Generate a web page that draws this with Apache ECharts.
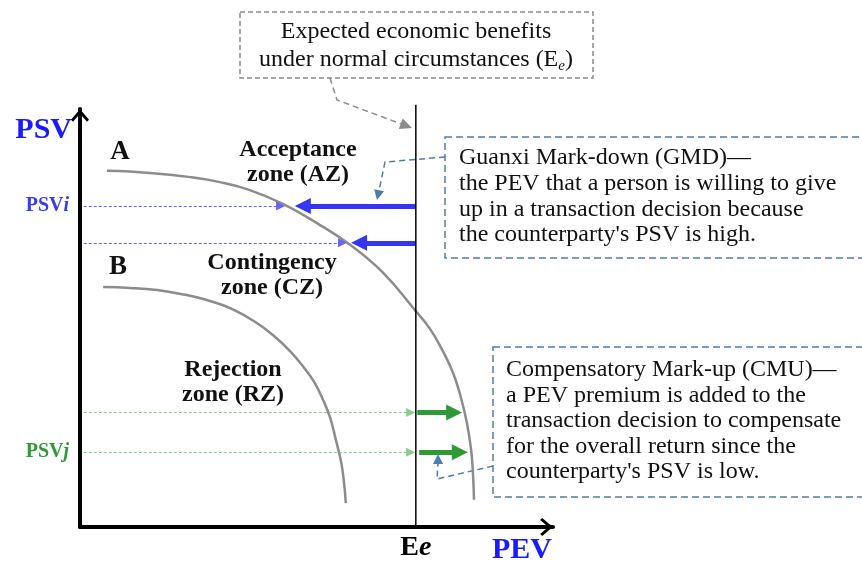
<!DOCTYPE html>
<html>
<head>
<meta charset="utf-8">
<title>PSV / PEV zones</title>
<script src="https://cdn.jsdelivr.net/npm/echarts@6.0.0/dist/echarts.min.js"></script>
<style>
  html, body { margin: 0; padding: 0; background: #fff; }
  #chart { width: 862px; height: 566px; }
</style>
</head>
<body>
<div id="chart"></div>
<script>
// both axes run 0..100 (PEV across, PSV up)
const EE = 71.0        // expected economic benefits under normal circumstances
const EE_TOP = 101.0

// curve A and curve B, [PEV, PSV]
const curveA = [
  [5.7, 85.2], [14.8, 84.7], [23.3, 83.7], [29.6, 82.5], [35.9, 80.6],
  [42.9, 77.3], [50.1, 72.7], [57.1, 67.5], [64.1, 60.8], [70.8, 51.9],
  [74.0, 47.4], [76.7, 42.1], [78.9, 36.8], [80.5, 31.1], [81.8, 24.9],
  [82.7, 18.4], [83.1, 12.4], [83.3, 6.5]
]
const curveB = [
  [4.9, 57.4], [10.6, 57.2], [16.3, 56.7], [21.6, 55.7], [26.8, 54.3],
  [32.1, 52.2], [37.4, 48.8], [41.2, 45.5], [44.4, 42.1], [47.1, 38.5],
  [49.5, 34.7], [51.4, 30.4], [52.9, 26.1], [54.1, 20.8], [55.2, 15.6],
  [55.8, 10.8], [56.2, 5.7]
]

// Guanxi mark-down: high PSV, arrows go left from Ee
const gmdPsv = [76.8, 68.0]
const gmdEnd = [47.1, 59.0]
const gmdGuideEnd = [42.4, 55.5]

// Compensatory mark-up: low PSV, arrows go right from Ee
const cmuPsv = [27.4, 17.9]
const cmuStart = [71.3, 71.7]
const cmuEnd = [79.1, 80.3]
const cmuGuideEnd = [69.9, 69.9]

const GUIDE_START = 0.8

// y tick labels
const yTickValues = [gmdPsv[0], cmuPsv[1]]
const yTickNames = ['{bl|PSV}{bli|i}', '{gr|PSV}{gri|j}']

const SERIF = '"Liberation Serif", "Times New Roman", serif'
const BLUE = '#1a1aff'
const ARROW_BLUE = '#3535f5'
const GREEN = '#2f9a35'
const CALLOUT = '#4f7cac'
const GREY = '#8c8c8c'

const chevron = 'path://M0,0 L11,13 L8.5,15.5 L0,5.5 L-8.5,15.5 L-11,13 Z'

function seg(x1, y1, x2, y2) {
  return { coords: [[x1, y1], [x2, y2]] }
}

// one smooth stroke through all points of a curve
function curveSeries(name, points) {
  return {
    name: name,
    type: 'custom',
    data: points,
    encode: { x: 0, y: 1 },
    renderItem: (params, api) => {
      if (params.dataIndex !== 0) return null
      return {
        type: 'polyline',
        shape: { points: points.map((p) => api.coord(p)), smooth: 0.45 },
        style: { fill: 'none', stroke: GREY, lineWidth: 2.5 }
      }
    }
  }
}

const myChart = echarts.init(document.getElementById('chart'))

myChart.setOption({
  animation: false,
  grid: { left: 80, right: 309, top: 109, bottom: 39, outerBoundsMode: 'none' },
  xAxis: {
    type: 'value',
    min: 0,
    max: 100,
    name: 'PEV',
    nameLocation: 'end',
    nameGap: -61,
    nameMoveOverlap: false,
    nameTextStyle: {
      color: BLUE, fontFamily: SERIF, fontSize: 30, fontWeight: 'bold',
      align: 'left', verticalAlign: 'top', padding: [8, 0, 0, 0]
    },
    axisLine: {
      show: true,
      symbol: ['none', chevron],
      symbolSize: [18, 13],
      symbolOffset: [0, -6.5],
      lineStyle: { color: '#000', width: 4 }
    },
    axisTick: { show: false },
    splitLine: { show: false },
    axisLabel: {
      customValues: [EE],
      margin: 7,
      formatter: () => '{e|E}{ei|e}',
      rich: {
        e: { fontFamily: SERIF, fontSize: 28, fontWeight: 'bold', color: '#000' },
        ei: { fontFamily: SERIF, fontSize: 28, fontWeight: 'bold', fontStyle: 'italic', color: '#000' }
      }
    }
  },
  yAxis: {
    type: 'value',
    min: 0,
    max: 100,
    name: 'PSV',
    nameLocation: 'end',
    nameGap: -21,
    nameMoveOverlap: false,
    nameTextStyle: {
      color: BLUE, fontFamily: SERIF, fontSize: 30, fontWeight: 'bold',
      align: 'right', verticalAlign: 'middle', padding: [0, 8, 0, 0]
    },
    axisLine: {
      show: true,
      symbol: ['none', chevron],
      symbolSize: [18, 13],
      symbolOffset: [0, -6.5],
      lineStyle: { color: '#000', width: 4 }
    },
    axisTick: { show: false },
    splitLine: { show: false },
    axisLabel: {
      customValues: yTickValues,
      margin: 11,
      formatter: (v) => yTickNames[yTickValues.indexOf(v)] || '',
      rich: {
        bl: { fontFamily: SERIF, fontSize: 20, fontWeight: 'bold', color: '#3a3af0' },
        bli: { fontFamily: SERIF, fontSize: 20, fontWeight: 'bold', fontStyle: 'italic', color: '#3a3af0' },
        gr: { fontFamily: SERIF, fontSize: 20, fontWeight: 'bold', color: GREEN },
        gri: { fontFamily: SERIF, fontSize: 20, fontWeight: 'bold', fontStyle: 'italic', color: GREEN }
      }
    }
  },
  series: [
    curveSeries('A', curveA),
    curveSeries('B', curveB),
    {
      name: 'Ee',
      type: 'line',
      symbol: 'none',
      clip: false,
      lineStyle: { color: '#000', width: 1.5 },
      data: [[EE, 0], [EE, EE_TOP]]
    },
    {
      name: 'GMD guide',
      type: 'lines',
      coordinateSystem: 'cartesian2d',
      symbol: ['none', 'triangle'],
      symbolSize: 9,
      lineStyle: { color: '#6464ff', width: 1, type: [3, 2], opacity: 1 },
      data: gmdPsv.map((p, i) => seg(GUIDE_START, p, gmdGuideEnd[i], p))
    },
    {
      name: 'GMD',
      type: 'lines',
      coordinateSystem: 'cartesian2d',
      symbol: ['none', 'triangle'],
      symbolSize: 16,
      lineStyle: { color: ARROW_BLUE, width: 5, opacity: 1 },
      data: gmdPsv.map((p, i) => seg(EE, p, gmdEnd[i], p))
    },
    {
      name: 'CMU guide',
      type: 'lines',
      coordinateSystem: 'cartesian2d',
      symbol: ['none', 'triangle'],
      symbolSize: 9,
      lineStyle: { color: '#86cf86', width: 1, type: [3, 2], opacity: 1 },
      data: cmuPsv.map((p, i) => seg(GUIDE_START, p, cmuGuideEnd[i], p))
    },
    {
      name: 'CMU',
      type: 'lines',
      coordinateSystem: 'cartesian2d',
      symbol: ['none', 'triangle'],
      symbolSize: 16,
      lineStyle: { color: GREEN, width: 5, opacity: 1 },
      data: cmuPsv.map((p, i) => seg(cmuStart[i], p, cmuEnd[i], p))
    }
  ],
  graphic: {
    elements: [
      // top note
      {
        type: 'rect',
        shape: { x: 240, y: 12, width: 353, height: 66 },
        style: { fill: 'none', stroke: GREY, lineWidth: 1.5, lineDash: [5, 3] }
      },
      {
        type: 'text',
        x: 416, y: 18,
        style: {
          text: 'Expected economic benefits\nunder normal circumstances (E{sub|e})',
          fontFamily: SERIF, fontSize: 24, lineHeight: 28, fill: '#111',
          align: 'center', verticalAlign: 'top',
          rich: {
            sub: { fontFamily: SERIF, fontSize: 15, fontStyle: 'italic', fill: '#111', verticalAlign: 'bottom' }
          }
        }
      },
      {
        type: 'polyline',
        shape: { points: [[330, 78], [337, 100], [400.8, 123.8]] },
        style: { fill: 'none', stroke: GREY, lineWidth: 1.5, lineDash: [6, 4] }
      },
      {
        type: 'polygon',
        shape: { points: [[412, 128], [398.8, 129], [402.7, 118.6]] },
        style: { fill: GREY }
      },
      // GMD note
      {
        type: 'rect',
        shape: { x: 445, y: 137, width: 430, height: 121 },
        style: { fill: 'none', stroke: CALLOUT, lineWidth: 1.5, lineDash: [7, 4] }
      },
      {
        type: 'text',
        x: 459, y: 145,
        style: {
          text: 'Guanxi Mark-down (GMD)\u2014\nthe PEV that a person is willing to give\nup in a transaction decision because\nthe counterparty\'s PSV is high.',
          fontFamily: SERIF, fontSize: 24, lineHeight: 25.7, fill: '#111',
          align: 'left', verticalAlign: 'top'
        }
      },
      {
        type: 'polyline',
        shape: { points: [[445, 157], [385, 162], [379.1, 190.2]] },
        style: { fill: 'none', stroke: CALLOUT, lineWidth: 1.5, lineDash: [6, 4] }
      },
      {
        type: 'polygon',
        shape: { points: [[377, 200], [384, 191.2], [374.2, 189.2]] },
        style: { fill: CALLOUT }
      },
      // CMU note
      {
        type: 'rect',
        shape: { x: 493, y: 347, width: 380, height: 150 },
        style: { fill: 'none', stroke: CALLOUT, lineWidth: 1.5, lineDash: [7, 4] }
      },
      {
        type: 'text',
        x: 506, y: 357,
        style: {
          text: 'Compensatory Mark-up (CMU)\u2014\na PEV premium is added to the\ntransaction decision to compensate\nfor the overall return since the\ncounterparty\'s PSV is low.',
          fontFamily: SERIF, fontSize: 24, lineHeight: 25.5, fill: '#111',
          align: 'left', verticalAlign: 'top'
        }
      },
      {
        type: 'polyline',
        shape: { points: [[493, 466], [437, 479], [438, 463]] },
        style: { fill: 'none', stroke: CALLOUT, lineWidth: 1.5, lineDash: [6, 4] }
      },
      {
        type: 'polygon',
        shape: { points: [[438, 454], [433, 464], [443, 464]] },
        style: { fill: CALLOUT }
      },
      // zone names
      {
        type: 'text', x: 298, y: 137.5,
        style: {
          text: 'Acceptance\nzone (AZ)', fontFamily: SERIF, fontSize: 24, fontWeight: 'bold',
          lineHeight: 25, fill: '#111', align: 'center', verticalAlign: 'top'
        }
      },
      {
        type: 'text', x: 272, y: 250.5,
        style: {
          text: 'Contingency\nzone (CZ)', fontFamily: SERIF, fontSize: 24, fontWeight: 'bold',
          lineHeight: 25, fill: '#111', align: 'center', verticalAlign: 'top'
        }
      },
      {
        type: 'text', x: 233, y: 357.5,
        style: {
          text: 'Rejection\nzone (RZ)', fontFamily: SERIF, fontSize: 24, fontWeight: 'bold',
          lineHeight: 25, fill: '#111', align: 'center', verticalAlign: 'top'
        }
      },
      {
        type: 'text', x: 120, y: 152,
        style: {
          text: 'A', fontFamily: SERIF, fontSize: 27, fontWeight: 'bold',
          fill: '#111', align: 'center', verticalAlign: 'middle'
        }
      },
      {
        type: 'text', x: 118, y: 267,
        style: {
          text: 'B', fontFamily: SERIF, fontSize: 27, fontWeight: 'bold',
          fill: '#111', align: 'center', verticalAlign: 'middle'
        }
      }
    ]
  }
})
</script>
</body>
</html>
